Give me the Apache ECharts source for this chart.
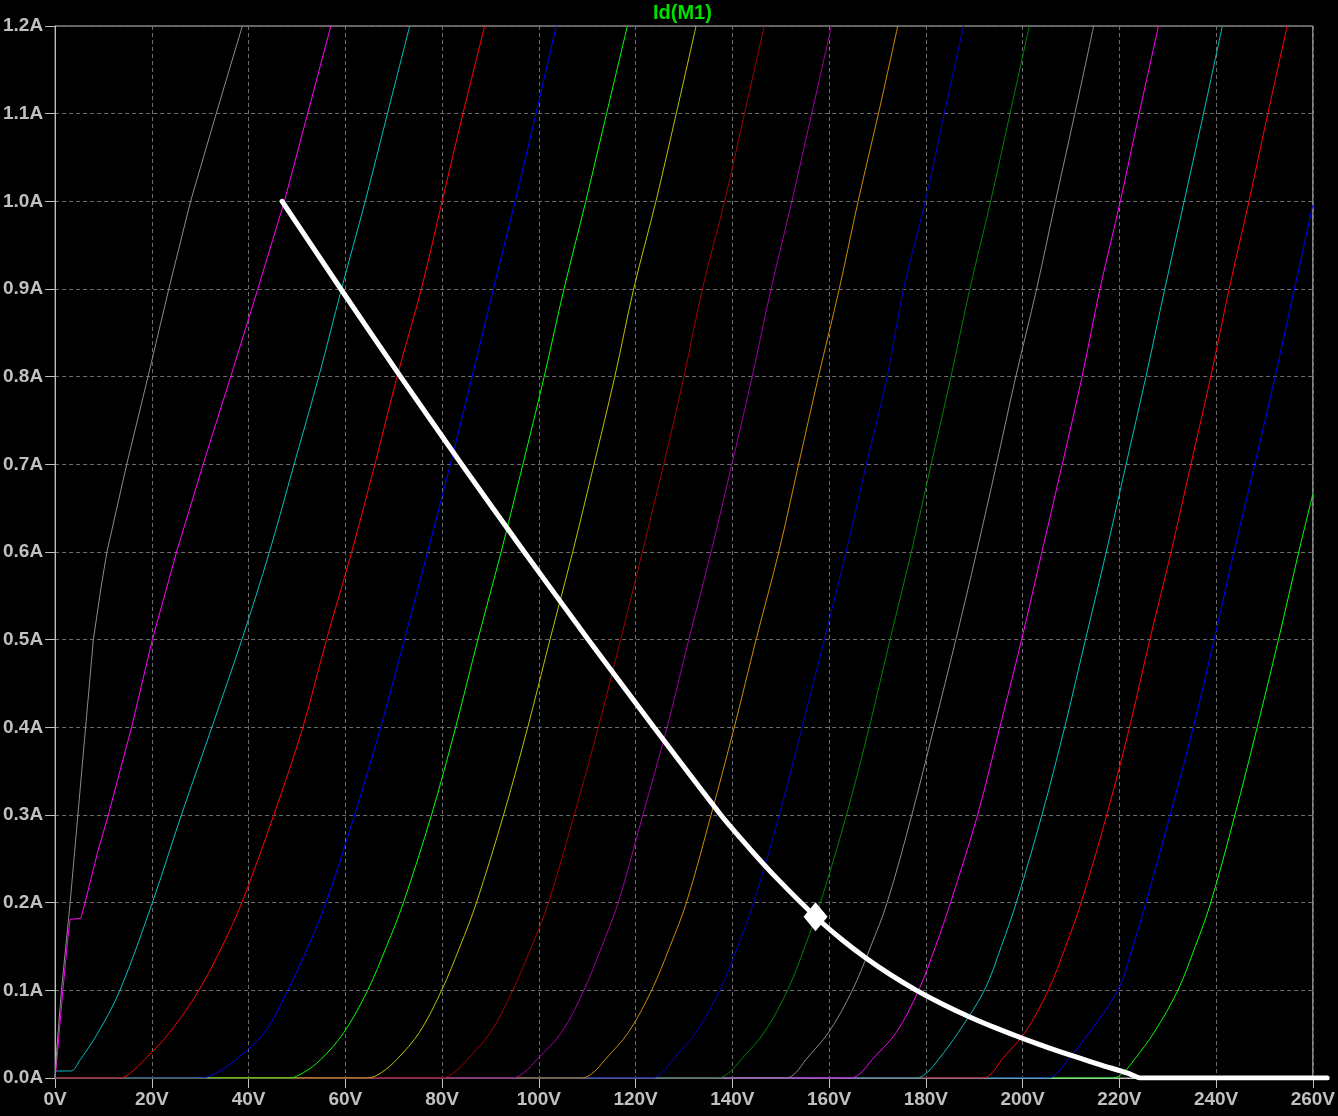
<!DOCTYPE html>
<html>
<head>
<meta charset="utf-8">
<script src="https://cdn.jsdelivr.net/npm/echarts@6/dist/echarts.min.js"></script>
<style>
html,body{margin:0;padding:0;background:#000;}
#chart{width:1338px;height:1116px;}
</style>
</head>
<body>
<div id="chart"></div>
<script>
// ---- Data (Vds in volts, Id in amps) ----
const xTickLabels = ['0V','20V','40V','60V','80V','100V','120V','140V','160V','180V','200V','220V','240V','260V'];
const yTickLabels = ['0.0A','0.1A','0.2A','0.3A','0.4A','0.5A','0.6A','0.7A','0.8A','0.9A','1.0A','1.1A','1.2A'];
const titleText = 'Id(M1)';

const curve01 = [[0,0],[0.3,0.03],[1.3,0.1],[3.1,0.2],[4.7,0.3],[6.3,0.4],[7.9,0.5],[9.5,0.56],[10.7,0.6],[14.8,0.7],[19.2,0.8],[23.5,0.9],[28.0,1.0],[33.3,1.1],[38.7,1.2]];
const curve02 = [[0,0],[0.5,0.03],[1.6,0.1],[2.6,0.158],[3.1,0.181],[5.3,0.182],[6.2,0.2],[8.9,0.26],[11.0,0.3],[15.8,0.4],[20.1,0.5],[25.1,0.6],[30.6,0.7],[36.3,0.8],[41.9,0.9],[47.4,1.0],[52.2,1.1],[57.0,1.2]];
const curve03 = [[0,0],[0.1,0.008],[3.2,0.008],[5.2,0.021],[8.9,0.052],[13.4,0.1],[20.1,0.2],[26.1,0.3],[32.4,0.4],[38.6,0.5],[44.3,0.6],[49.4,0.7],[54.5,0.8],[59.2,0.9],[64.1,1.0],[68.7,1.1],[73.3,1.2]];
const curve04 = [[0,0],[13.4,0],[15.6,0.006],[18.5,0.021],[23.7,0.052],[29.7,0.1],[34.5,0.15],[38.6,0.2],[45.2,0.3],[51.2,0.4],[56.1,0.5],[61.3,0.6],[66.1,0.7],[70.7,0.8],[75.7,0.9],[80.0,1.0],[84.3,1.1],[88.8,1.2]];
const curve05 = [[0,0],[30.2,0],[33.4,0.006],[37.4,0.021],[43.3,0.052],[48.1,0.1],[52.3,0.15],[56.0,0.2],[61.9,0.3],[67.3,0.4],[72.2,0.5],[77.0,0.6],[81.7,0.7],[86.2,0.8],[90.6,0.9],[95.1,1.0],[99.4,1.1],[103.6,1.2]];
const curve06 = [[0,0],[48.4,0],[51.3,0.006],[54.9,0.021],[59.7,0.052],[64.6,0.1],[68.5,0.15],[72.0,0.2],[77.8,0.3],[82.8,0.4],[87.4,0.5],[92.2,0.6],[96.7,0.7],[101.1,0.8],[105.2,0.9],[109.7,1.0],[114.0,1.1],[118.3,1.2]];
const curve07 = [[0,0],[64.6,0],[67.4,0.006],[70.6,0.021],[75.3,0.052],[79.9,0.1],[83.7,0.15],[87.1,0.2],[92.7,0.3],[97.7,0.4],[102.3,0.5],[107.0,0.6],[111.4,0.7],[115.7,0.8],[119.6,0.9],[124.2,1.0],[128.4,1.1],[132.5,1.2]];
const curve08 = [[0,0],[79.9,0],[82.4,0.006],[85.2,0.021],[90.0,0.052],[94.6,0.1],[98.5,0.15],[102.0,0.2],[107.3,0.3],[112.3,0.4],[116.9,0.5],[121.4,0.6],[125.8,0.7],[130.0,0.8],[133.8,0.9],[138.4,1.0],[142.5,1.1],[146.6,1.2]];
const curve09 = [[0,0],[94.4,0],[96.9,0.006],[99.6,0.021],[104.7,0.052],[109.3,0.1],[113.0,0.15],[116.4,0.2],[121.5,0.3],[126.5,0.4],[131.0,0.5],[135.6,0.6],[139.9,0.7],[144.1,0.8],[148.0,0.9],[152.3,1.0],[156.4,1.1],[160.5,1.2]];
const curve10 = [[0,0],[108.9,0],[111.2,0.006],[113.7,0.021],[118.5,0.052],[123.3,0.1],[127.1,0.15],[130.5,0.2],[135.6,0.3],[140.4,0.4],[144.9,0.5],[149.6,0.6],[153.7,0.7],[157.8,0.8],[162.1,0.9],[166.0,1.0],[170.2,1.1],[174.2,1.2]];
const curve11 = [[0,0],[123.3,0],[125.4,0.006],[127.7,0.021],[132.5,0.052],[137.4,0.1],[141.1,0.15],[144.4,0.2],[149.7,0.3],[154.4,0.4],[159.0,0.5],[163.5,0.6],[167.7,0.7],[172.0,0.8],[175.4,0.9],[179.9,1.0],[183.8,1.1],[187.8,1.2]];
const curve12 = [[0,0],[137.0,0],[139.3,0.006],[141.8,0.021],[146.6,0.052],[151.4,0.1],[155.0,0.15],[158.2,0.2],[163.6,0.3],[168.3,0.4],[172.6,0.5],[177.0,0.6],[181.1,0.7],[185.2,0.8],[189.1,0.9],[193.4,1.0],[197.4,1.1],[201.4,1.2]];
const curve13 = [[0,0],[151.1,0],[153.1,0.006],[155.2,0.021],[159.9,0.052],[164.8,0.1],[168.6,0.15],[172.0,0.2],[177.1,0.3],[181.7,0.4],[186.2,0.5],[190.5,0.6],[194.6,0.7],[198.6,0.8],[202.9,0.9],[206.8,1.0],[210.8,1.1],[214.7,1.2]];
const curve14 = [[0,0],[164.5,0],[166.6,0.006],[168.9,0.021],[173.9,0.052],[178.5,0.1],[182.0,0.15],[185.1,0.2],[190.7,0.3],[195.3,0.4],[199.8,0.5],[204.0,0.6],[208.2,0.7],[212.3,0.8],[216.0,0.9],[220.2,1.0],[224.1,1.1],[228.1,1.2]];
const curve15 = [[0,0],[178.1,0],[180.2,0.006],[182.6,0.021],[186.7,0.052],[192.1,0.1],[195.6,0.15],[198.7,0.2],[204.0,0.3],[208.7,0.4],[213.0,0.5],[217.3,0.6],[221.4,0.7],[225.5,0.8],[229.4,0.9],[233.4,1.0],[237.4,1.1],[241.3,1.2]];
const curve16 = [[0,0],[191.9,0],[193.7,0.006],[195.7,0.021],[200.5,0.052],[205.3,0.1],[208.9,0.15],[212.1,0.2],[217.4,0.3],[222.1,0.4],[226.3,0.5],[230.7,0.6],[234.8,0.7],[238.9,0.8],[242.7,0.9],[246.8,1.0],[250.7,1.1],[254.7,1.2]];
const curve17 = [[0,0],[205.3,0],[207.2,0.006],[209.4,0.021],[213.8,0.052],[219.7,0.1],[222.8,0.15],[225.5,0.2],[230.5,0.3],[235.3,0.4],[239.6,0.5],[243.7,0.6],[248.0,0.7],[252.2,0.8],[256.2,0.9],[260,0.996]];
const curve18 = [[0,0],[218.7,0],[220.8,0.006],[223.1,0.021],[227.2,0.052],[232.1,0.1],[235.7,0.15],[238.9,0.2],[243.9,0.3],[248.5,0.4],[252.9,0.5],[257.1,0.6],[260,0.666]];

const loadLine = [[47.2,1.0],[59.3,0.9],[71.6,0.8],[84.2,0.7],[97.1,0.6],[110.3,0.5],[123.8,0.4],[137.6,0.3],[143.8,0.26],[149.1,0.228],[157.1,0.184],[162.5,0.158],[167.4,0.1372],[172.6,0.1176],[177.8,0.1003],[183.4,0.0839],[189.1,0.0691],[194.6,0.0563],[200.1,0.0445],[205.6,0.0335],[211.1,0.0234],[216.3,0.0142],[221.4,0.0056],[224.0,0],[262.5,0]];
const operatingPoint = [[157.1,0.184]];

// ---- Styles ----
const curves = [curve01,curve02,curve03,curve04,curve05,curve06,curve07,curve08,curve09,curve10,curve11,curve12,curve13,curve14,curve15,curve16,curve17,curve18];
const palette = ['#8a8a8a','#ff00ff','#00c0c0','#ff0000','#0000ff','#00ff00','#c0c000','#a00000','#a000a0','#d08c00','#0000c8','#008000','#8a8a8a','#ff00ff','#00c0c0','#ff0000','#0000ff','#00ff00'];

const series = [];
for (let i = curves.length - 1; i >= 0; i--) {
  series.push({
    type: 'line',
    xAxisIndex: 0, yAxisIndex: 0,
    data: curves[i],
    showSymbol: false,
    symbol: 'none',
    smooth: i < 2 ? false : 0.35,
    lineStyle: { color: palette[i], width: 1 },
    silent: true
  });
}
// Load line and operating point live on an overlay grid with the same scale,
// extended to the right so the line can run past the 260 V frame as in the original.
series.push({
  type: 'line',
  xAxisIndex: 1, yAxisIndex: 1,
  data: loadLine,
  symbol: 'none',
  smooth: 0.2,
  lineStyle: { color: '#ffffff', width: 5, cap: 'round', join: 'round' },
  z: 5,
  silent: true
});
series.push({
  type: 'scatter',
  xAxisIndex: 1, yAxisIndex: 1,
  data: operatingPoint,
  symbol: 'diamond',
  symbolSize: [24, 29],
  itemStyle: { color: '#ffffff', opacity: 1 },
  z: 6,
  silent: true
});

const labelFont = { color: '#c0c0c0', fontFamily: 'Liberation Sans, Arial, sans-serif', fontWeight: 'bold', fontSize: 19 };
const plotLeft = 53, plotRight = 23, plotTop = 26, plotBottom = 38;
const xMax = 260, xMaxOverlay = 264;
const pxPerVolt = (1338 - plotLeft - plotRight) / xMax;
const overlayRight = 1338 - plotLeft - xMaxOverlay * pxPerVolt;

const option = {
  backgroundColor: '#000000',
  animation: false,
  title: {
    text: titleText,
    left: 653,
    top: 3,
    padding: 0,
    textStyle: { color: '#00e000', fontFamily: 'Liberation Sans, Arial, sans-serif', fontWeight: 'bold', fontSize: 20 }
  },
  grid: [
    { left: plotLeft, top: plotTop, right: plotRight, bottom: plotBottom, show: true, borderColor: '#c0c0c0', borderWidth: 1, backgroundColor: 'transparent' },
    { left: plotLeft, top: plotTop, right: overlayRight, bottom: plotBottom, show: false }
  ],
  xAxis: [{
    gridIndex: 0,
    type: 'value', min: 0, max: xMax, interval: 20,
    axisLine: { show: true, lineStyle: { color: '#c0c0c0', width: 1 } },
    axisTick: { show: true, length: 10, lineStyle: { color: '#c0c0c0' } },
    axisLabel: Object.assign({ margin: 12, formatter: v => xTickLabels[Math.round(v / 20)] }, labelFont),
    splitLine: { show: true, lineStyle: { color: '#6e6e6e', type: [4, 3], width: 1 } }
  }, {
    gridIndex: 1, type: 'value', min: 0, max: xMaxOverlay, show: false
  }],
  yAxis: [{
    gridIndex: 0,
    type: 'value', min: 0, max: 1.2, interval: 0.1,
    axisLine: { show: true, lineStyle: { color: '#c0c0c0', width: 1 } },
    axisTick: { show: true, length: 10, lineStyle: { color: '#c0c0c0' } },
    axisLabel: Object.assign({ margin: 12, formatter: v => yTickLabels[Math.round(v * 10)] }, labelFont),
    splitLine: { show: true, lineStyle: { color: '#6e6e6e', type: [4, 3], width: 1 } }
  }, {
    gridIndex: 1, type: 'value', min: 0, max: 1.2, show: false
  }],
  series: series
};

const chart = echarts.init(document.getElementById('chart'), null, { renderer: 'canvas' });
chart.setOption(option);
</script>
</body>
</html>
